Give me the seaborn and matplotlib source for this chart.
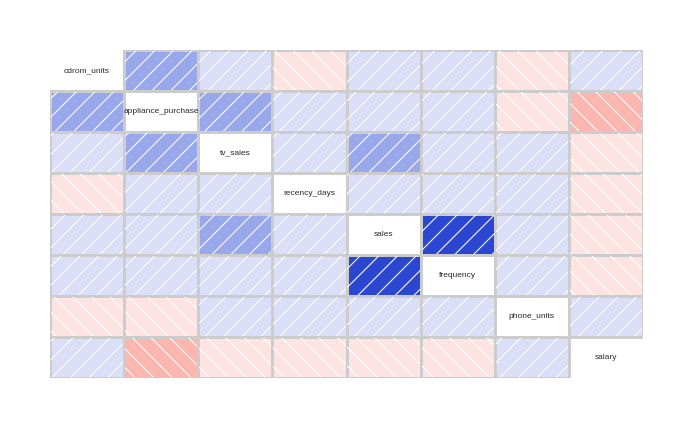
import numpy as np
import pandas as pd
import seaborn as sns
import matplotlib.pyplot as plt
from matplotlib.colors import ListedColormap, BoundaryNorm
from matplotlib.patches import Rectangle

# 变量名称
names = ['cdrom_units', 'appliance_purchase', 'tv_sales', 'recency_days',
         'sales', 'frequency', 'phone_units', 'salary']

# 相关系数矩阵
corr_rows = [
    [1.00, 0.40, 0.12, -0.08, 0.10, 0.11, -0.05, 0.09],
    [0.40, 1.00, 0.42, 0.13, 0.15, 0.14, -0.06, -0.35],
    [0.12, 0.42, 1.00, 0.10, 0.45, 0.18, 0.08, -0.12],
    [-0.08, 0.13, 0.10, 1.00, 0.12, 0.10, 0.07, -0.10],
    [0.10, 0.15, 0.45, 0.12, 1.00, 0.88, 0.09, -0.11],
    [0.11, 0.14, 0.18, 0.10, 0.88, 1.00, 0.08, -0.09],
    [-0.05, -0.06, 0.08, 0.07, 0.09, 0.08, 1.00, 0.06],
    [0.09, -0.35, -0.12, -0.10, -0.11, -0.09, 0.06, 1.00],
]

# 分段颜色
bin_edges = [-1.0, -0.6, -0.25, 0.0, 0.25, 0.6, 1.0]
bin_colors = ['#d12b2b', '#fbb6b0', '#fde4e3', '#dadff7', '#98a8eb', '#2b47d1']

df = pd.DataFrame(corr_rows, index=names, columns=names)

sns.set_style('white')
plt.rcParams['font.family'] = ['Liberation Sans', 'DejaVu Sans']
plt.rcParams['hatch.linewidth'] = 0.45
plt.rcParams['hatch.color'] = 'white'

dpi = 168
fig = plt.figure(figsize=(693 / dpi, 428 / dpi), dpi=dpi)
ax = fig.add_axes([50 / 693, 50 / 428, 593 / 693, 328 / 428])

cmap = ListedColormap(bin_colors)
norm = BoundaryNorm(bin_edges, cmap.N)
n = len(names)
mask = np.eye(n, dtype=bool)

sns.heatmap(df, mask=mask, cmap=cmap, norm=norm, cbar=False,
            linewidths=0.45, linecolor='#cccccc', square=False,
            xticklabels=False, yticklabels=False, ax=ax)

# 对角线格子不画边框
mesh = ax.collections[0]
edge_cols = [(0, 0, 0, 0) if i == j else '#cccccc'
             for i in range(n) for j in range(n)]
mesh.set_edgecolor(edge_cols)

# 斜线纹理：正相关 '/'，负相关 '\'
for i in range(n):
    for j in range(n):
        if i == j:
            continue
        v = df.iloc[i, j]
        ax.add_patch(Rectangle((j + 0.012, i + 0.022), 0.976, 0.956, fill=False,
                               hatch='///' if v >= 0 else '\\\\\\',
                               edgecolor='white', linewidth=0, zorder=2))

# 对角线写变量名
for i, name in enumerate(names):
    ax.text(i + 0.5, i + 0.5, name, ha='center', va='center',
            fontsize=3.6, color='#2a2a2a')

for s in ax.spines.values():
    s.set_visible(False)
ax.set_xlabel('')
ax.set_ylabel('')

fig.savefig('out.png', dpi=dpi, facecolor='white')
